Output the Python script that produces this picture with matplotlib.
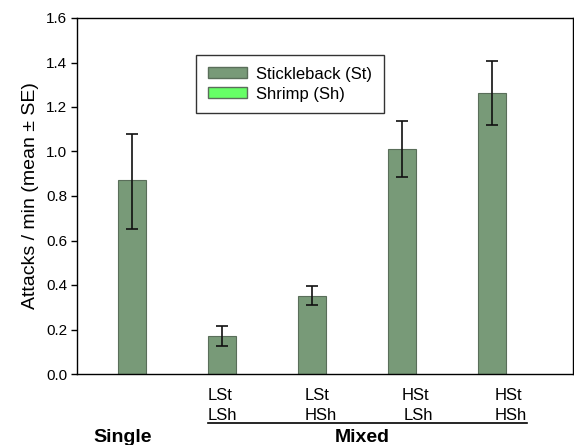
import matplotlib
matplotlib.use("Agg")
import matplotlib.pyplot as plt
from matplotlib.patches import Patch
from matplotlib.transforms import blended_transform_factory

plt.rcParams['font.family'] = ['Liberation Sans', 'DejaVu Sans']

groups = ["Single", "LSt\nLSh", "LSt\nHSh", "HSt\nLSh", "HSt\nHSh"]
top_labels = ["LSt", "LSt", "HSt", "HSt"]
bottom_labels = ["LSh", "HSh", "LSh", "HSh"]
means = [0.87, 0.17, 0.35, 1.01, 1.264]
se_low = [0.65, 0.125, 0.31, 0.885, 1.119]
se_high = [1.08, 0.215, 0.395, 1.135, 1.407]
yticks = [0.0, 0.2, 0.4, 0.6, 0.8, 1.0, 1.2, 1.4, 1.6]

bar_color = "#789a78"
shrimp_color = "#66ff66"

fig = plt.figure(figsize=(5.74, 4.45), dpi=100)
ax = fig.add_axes([77/574, 1 - 374/445, (573-77)/574, (374-18)/445])

x = list(range(len(means)))
err = [[m - l for m, l in zip(means, se_low)], [h - m for m, h in zip(means, se_high)]]
ax.bar(x, means, width=0.31, color=bar_color, edgecolor="#5a6e5a", linewidth=0.8, zorder=2)
ax.errorbar(x, means, yerr=err, fmt="none", ecolor="#111111", elinewidth=1.2, capsize=4.5, capthick=1.2, zorder=3)

ax.set_xlim(-0.611, 4.9)
ax.set_ylim(0, 1.6)
ax.set_yticks(yticks)
ax.set_yticklabels([f"{v:.1f}" for v in yticks], fontsize=11)
ax.set_xticks([])
ax.tick_params(axis='y', direction='out', length=4, width=1, pad=3)
for s in ax.spines.values():
    s.set_linewidth(1.0)
ax.set_ylabel("Attacks / min (mean ± SE)", fontsize=14, labelpad=5)

# category labels below axis (left-aligned)
trans = blended_transform_factory(ax.transData, fig.transFigure)
top_x = [0.844, 1.922, 3.0, 4.033]
bot_x = [0.844, 1.922, 3.022, 4.033]
for i, (t, b) in enumerate(zip(top_labels, bottom_labels)):
    ax.text(top_x[i], 1 - 396/445, t, transform=trans, ha="left", va="center", fontsize=12)
    ax.text(bot_x[i], 1 - 415/445, b, transform=trans, ha="left", va="center", fontsize=12)

# underline for Mixed
ax.plot([0.84, 4.39], [1 - 423/445] * 2, transform=trans, color="black", linewidth=1.2, clip_on=False)
ax.text(-0.1, 1 - 437/445, "Single", transform=trans, ha="center", va="center", fontsize=14, fontweight="bold")
ax.text(2.556, 1 - 437/445, "Mixed", transform=trans, ha="center", va="center", fontsize=14, fontweight="bold")

handles = [Patch(facecolor=bar_color, edgecolor="#5a6e5a", label="Stickleback (St)"),
           Patch(facecolor=shrimp_color, edgecolor="#5a6e5a", label="Shrimp (Sh)")]
leg = ax.legend(handles=handles, loc="upper left", bbox_to_anchor=((196-77)/496, (374-55)/356),
                borderaxespad=0.0,
                fontsize=12, frameon=True, fancybox=False, edgecolor="black",
                handlelength=2.35, handleheight=0.6, borderpad=0.7, labelspacing=0.3, handletextpad=0.55)
leg.get_frame().set_linewidth(1.0)

fig.savefig("out.png", dpi=100)
